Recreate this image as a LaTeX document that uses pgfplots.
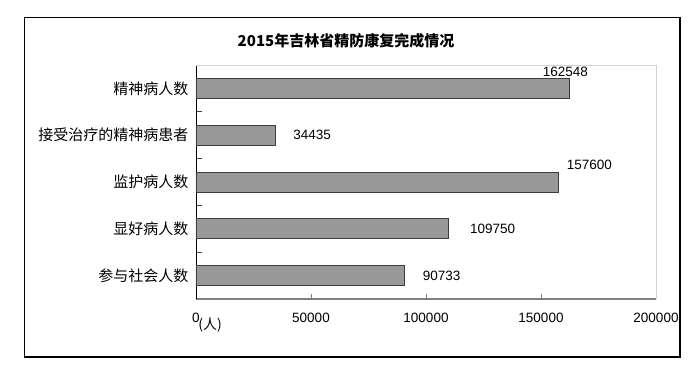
\documentclass[border=0pt]{standalone}
\usepackage{fontspec}
\usepackage{pgfplots}
\pgfplotsset{compat=1.18}
\setmainfont{Liberation Sans}
\newfontfamily\cjk{Noto Sans CJK SC}
\definecolor{barfill}{RGB}{153,153,153}
\definecolor{bardraw}{RGB}{60,60,60}
\definecolor{axgray}{RGB}{128,128,128}
\definecolor{bordergray}{RGB}{210,210,210}
\newcommand{\numfont}{\fontsize{13.5}{15}\selectfont}
\begin{document}
\begin{tikzpicture}
\useasboundingbox (0pt,0pt) rectangle (699pt,375pt);
\fill[white] (0pt,0pt) rectangle (699pt,375pt);
\draw[black, line width=1.5pt] (24.5pt,18pt) rectangle (680pt,357.5pt);
\node[font=\cjk\bfseries\fontsize{15}{18}\selectfont] at (346pt,334pt) {2015年吉林省精防康复完成情况};
\begin{axis}[
  at={(196pt,76pt)}, anchor=south west,
  scale only axis, width=460pt, height=234pt,
  xmin=0, xmax=200000, ymin=-0.5, ymax=4.5,
  axis x line*=bottom, axis y line*=left,
  x axis line style={draw=axgray, line width=1.6pt, -},
  y axis line style={draw=black, line width=0.8pt, -},
  xtick={0,50000,100000,150000,200000},
  xticklabels={0,50000,100000,150000,200000},
  scaled x ticks=false,
  xticklabel style={font=\numfont, yshift=-11pt},
  x tick style={draw=axgray, line width=0.8pt},
  major tick length=5pt,
  tick align=inside,
  ytick={0,1,2,3,4},
  yticklabels={参与社会人数,显好病人数,监护病人数,接受治疗的精神病患者,精神病人数},
  yticklabel style={font=\cjk\fontsize{15}{17}\selectfont, xshift=-4pt},
  y tick style={draw=none},
  minor ytick={-0.5,0.5,1.5,2.5,3.5,4.5},
  minor y tick style={draw=black!75, line width=0.8pt},
  minor tick length=6pt,
  clip=false,
]
\draw[bordergray, line width=1pt] (rel axis cs:0,1) -- (rel axis cs:1,1) -- (rel axis cs:1,0);
\addplot[xbar, bar width=20pt, fill=barfill, draw=bardraw, line width=0.8pt]
  coordinates {(90733,0) (109750,1) (157600,2) (34435,3) (162548,4)};
\node[font=\numfont, inner sep=0pt] at (axis cs:162548,4) [xshift=-4.5pt, yshift=17pt] {162548};
\node[font=\numfont, inner sep=0pt, anchor=west] at (axis cs:34435,3) [xshift=18pt] {34435};
\node[font=\numfont, inner sep=0pt] at (axis cs:157600,2) [xshift=31pt, yshift=17.5pt] {157600};
\node[font=\numfont, inner sep=0pt, anchor=west] at (axis cs:109750,1) [xshift=21.5pt] {109750};
\node[font=\numfont, inner sep=0pt, anchor=west] at (axis cs:90733,0) [xshift=18pt] {90733};
\end{axis}
\node[font=\cjk\fontsize{14}{16}\selectfont] at (210pt,50pt) {(人)};
\end{tikzpicture}
\end{document}
